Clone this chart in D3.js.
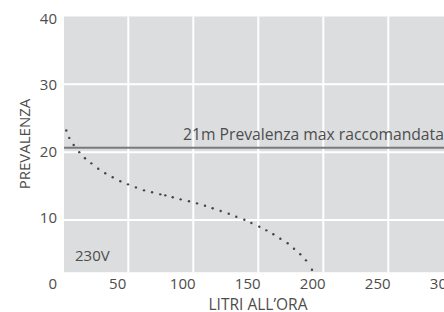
<!DOCTYPE html>
<html>
<head>
<meta charset="utf-8">
<script src="https://cdn.jsdelivr.net/npm/d3@7"></script>
<style>
  html, body { margin: 0; padding: 0; background: #fff; }
  svg { display: block; }
  text { font-family: "Open Sans", sans-serif; fill: #4d4d4d; }
</style>
</head>
<body>
<svg id="chart" width="444" height="312"></svg>
<script>
// litri all'ora vs prevalenza (m)
let flowRates = [11.2, 13.5, 16.9, 21.2, 25.6, 30.5, 35.8, 41.2, 46.9, 52.8, 58.7, 64.8,
    71.0, 77.2, 83.5, 87.4, 93.1, 99.2, 105.6, 111.8, 117.9, 123.8, 130.0, 136.2,
    142.0, 148.2, 153.6, 159.7, 165.1, 170.5, 175.9, 181.5, 186.4, 191.2, 195.6, 200.2];
let heads = [23.2, 22.1, 21.05, 20.0, 19.1, 18.35, 17.55, 16.9, 16.3, 15.7, 15.25, 14.8,
    14.37, 14.08, 13.78, 13.63, 13.34, 13.04, 12.75, 12.45, 12.1, 11.72, 11.32, 10.92,
    10.48, 10.04, 9.55, 9.01, 8.47, 7.89, 7.24, 6.56, 5.76, 4.94, 4.05, 2.67];
let xTicks = [0, 50, 100, 150, 200, 250, 300];
let yTicks = [10, 20, 30, 40];
let maxHead = 20.65;
let maxHeadLabel = '21m Prevalenza max raccomandata';
let voltageLabel = '230V';

function draw_chart(selector) {
    let svg = d3.select(selector),
        width = +svg.attr('width');

    let x = d3.scaleLinear().domain([0, 300]).range([51.7, 441.7]);
    let y = d3.scaleLinear().domain([0, 40]).range([287.8, 16.5]);
    // tick text sits a little apart from the grid in the original
    let yText = d3.scaleLinear().domain([0, 40]).range([284, 18.7]);
    let gridShift = 11.6;

    let left = x(9.5), top = y(40), bottom = y(2.3);

    svg.append('rect')
        .attr('x', left)
        .attr('y', top)
        .attr('width', width - left)
        .attr('height', bottom - top)
        .attr('fill', '#dcdddf');

    let grid = svg.append('g');
    grid.selectAll('.vgrid')
        .data(xTicks.filter(function (d) { return d > 0; }))
        .enter().append('line')
        .attr('x1', function (d) { return x(d) + gridShift; })
        .attr('x2', function (d) { return x(d) + gridShift; })
        .attr('y1', top)
        .attr('y2', bottom)
        .attr('stroke', '#fff')
        .attr('stroke-width', 2);
    grid.selectAll('.hgrid')
        .data(yTicks.filter(function (d) { return d < 40; }))
        .enter().append('line')
        .attr('x1', left)
        .attr('x2', width)
        .attr('y1', function (d) { return y(d); })
        .attr('y2', function (d) { return y(d); })
        .attr('stroke', '#fff')
        .attr('stroke-width', 2);

    // recommended max head
    svg.append('line')
        .attr('x1', left)
        .attr('x2', width)
        .attr('y1', y(maxHead))
        .attr('y2', y(maxHead))
        .attr('stroke', '#7a7a7a')
        .attr('stroke-width', 2);
    svg.append('text')
        .attr('x', 183)
        .attr('y', y(maxHead) - 8)
        .attr('font-size', 15.7)
        .text(maxHeadLabel);

    svg.append('text')
        .attr('x', 75)
        .attr('y', 261)
        .attr('font-size', 15)
        .text(voltageLabel);

    svg.selectAll('.dot')
        .data(flowRates)
        .enter().append('circle')
        .attr('cx', function (d) { return x(d); })
        .attr('cy', function (d, i) { return y(heads[i]); })
        .attr('r', 1.2)
        .attr('fill', '#444');

    svg.selectAll('.xlabel')
        .data(xTicks)
        .enter().append('text')
        .attr('x', function (d) { return x(d) + 1; })
        .attr('y', yText(0))
        .attr('dy', '0.35em')
        .attr('text-anchor', 'middle')
        .attr('font-size', 15)
        .text(function (d) { return d; });

    svg.selectAll('.ylabel')
        .data(yTicks)
        .enter().append('text')
        .attr('x', 57)
        .attr('y', function (d) { return yText(d); })
        .attr('dy', '0.35em')
        .attr('text-anchor', 'end')
        .attr('font-size', 15)
        .text(function (d) { return d; });

    svg.append('text')
        .attr('x', 258)
        .attr('y', 304.5)
        .attr('dy', '0.35em')
        .attr('text-anchor', 'middle')
        .attr('font-size', 15.5)
        .text('LITRI ALL\u2019ORA');

    svg.append('text')
        .attr('transform', 'translate(25,144) rotate(-90)')
        .attr('dy', '0.35em')
        .attr('text-anchor', 'middle')
        .attr('font-size', 15)
        .text('PREVALENZA');
}

draw_chart('#chart');
</script>
</body>
</html>
